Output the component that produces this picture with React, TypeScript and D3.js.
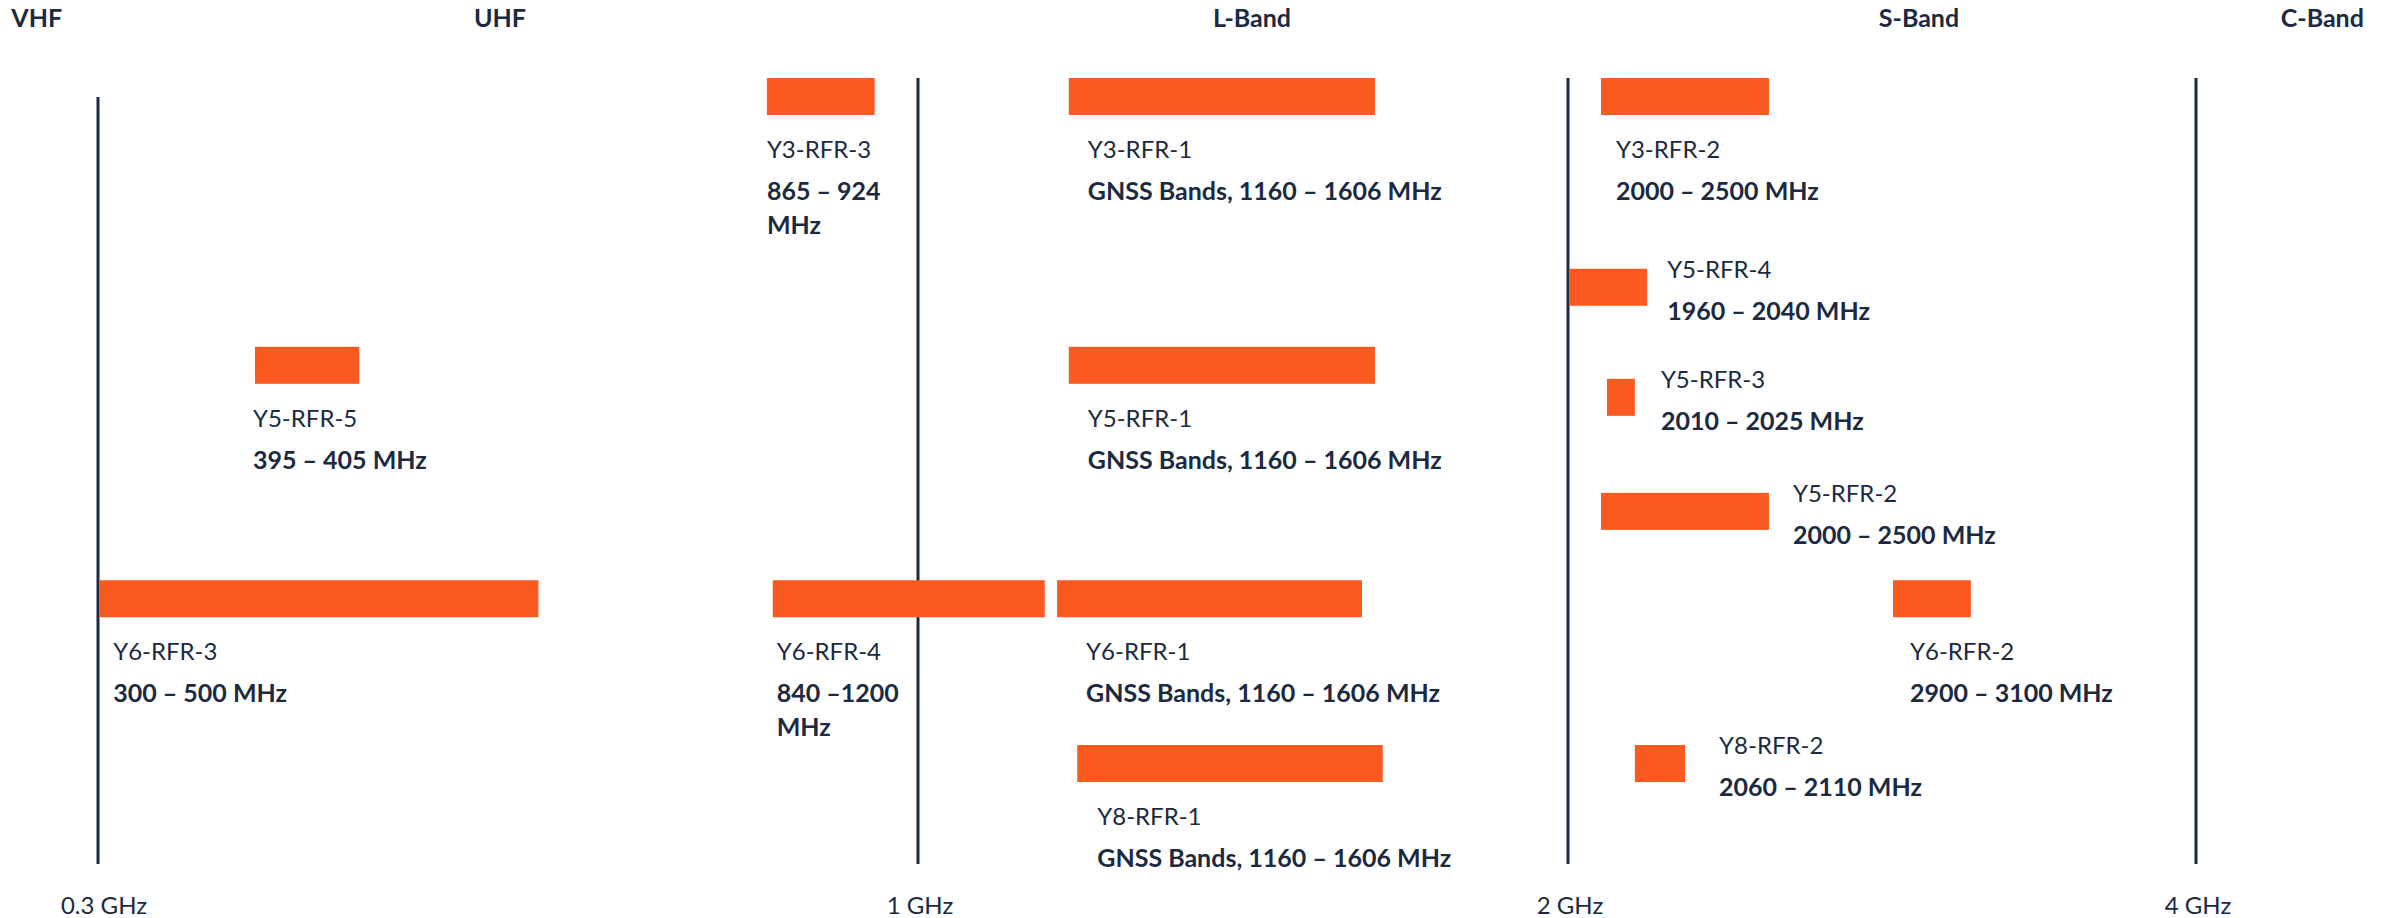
import React from "react";
import * as d3 from "d3";

// ---- data (axis in GHz) ----
const tickValues = [0.3, 1, 2, 4];
const tickLabels = ["0.3 GHz", "1 GHz", "2 GHz", "4 GHz"];

const bandNames = ["VHF", "UHF", "L-Band", "S-Band", "C-Band"];
const bandAt = [0.226, 0.621, 1.454, 2.99, 4.27];

const barNames = [
  "Y3-RFR-3", "Y3-RFR-1", "Y3-RFR-2",
  "Y5-RFR-4", "Y5-RFR-5", "Y5-RFR-1", "Y5-RFR-3", "Y5-RFR-2",
  "Y6-RFR-3", "Y6-RFR-4", "Y6-RFR-1", "Y6-RFR-2",
  "Y8-RFR-1", "Y8-RFR-2",
];
const barRanges = [
  ["865 – 924", "MHz"], ["GNSS Bands, 1160 – 1606 MHz"], ["2000 – 2500 MHz"],
  ["1960 – 2040 MHz"], ["395 – 405 MHz"], ["GNSS Bands, 1160 – 1606 MHz"], ["2010 – 2025 MHz"], ["2000 – 2500 MHz"],
  ["300 – 500 MHz"], ["840 –1200", "MHz"], ["GNSS Bands, 1160 – 1606 MHz"], ["2900 – 3100 MHz"],
  ["GNSS Bands, 1160 – 1606 MHz"], ["2060 – 2110 MHz"],
];
const barStart = [0.871, 1.232, 2.105, 2.003, 0.434, 1.232, 2.124, 2.105, 0.301, 0.876, 1.214, 3.035, 1.245, 2.213];
const barEnd = [0.963, 1.703, 2.64, 2.252, 0.523, 1.703, 2.213, 2.64, 0.676, 1.195, 1.683, 3.283, 1.715, 2.373];
const barLane = [0, 0, 0, 28.6, 40.3, 40.3, 45.1, 62.2, 75.3, 75.3, 75.3, 75.3, 100, 100];

// ---- layout (styling only) ----
const labelSide = ["below", "below", "below", "right", "below", "below", "right", "right", "below", "below", "below", "below", "below", "right"];
const labelDx = [0, 19, 15, 20, -2, 19, 26, 24, 14, 4, 29, 17, 20, 34];
const lineTop = [97, 78, 78, 78];

const W = 2394;
const H = 918;
const NAVY = "#1b2a41";
const ORANGE = "#fa5a20";
const FONT = "Lato, 'Open Sans', sans-serif";
const BAR_H = 37;

export default function App() {
  const x = d3.scaleLinear().domain(tickValues).range([98, 918, 1568, 2196]);
  const y = d3.scaleLinear().domain([0, 100]).range([78, 745]);

  return (
    <svg
      width={W}
      height={H}
      viewBox={`0 0 ${W} ${H}`}
      style={{ position: "absolute", left: 0, top: 0, background: "#fff" }}
      fontFamily={FONT}
    >
      <rect x={0} y={0} width={W} height={H} fill="#fff" />
      {/* band names */}
      {bandNames.map((b, i) => (
        <text key={b} x={x(bandAt[i])} y={27} fontSize={25} fontWeight={700} fill={NAVY}>
          {b}
        </text>
      ))}
      {/* frequency lines */}
      {tickValues.map((t, i) => (
        <g key={t}>
          <line x1={x(t)} x2={x(t)} y1={lineTop[i]} y2={864} stroke={NAVY} strokeWidth={3} />
          <text x={x(t) + (i === 0 ? 6 : 2)} y={914} fontSize={24} fill={NAVY} textAnchor="middle">
            {tickLabels[i]}
          </text>
        </g>
      ))}
      {/* bars */}
      {barNames.map((n, i) => {
        const x0 = x(barStart[i]);
        const x1 = x(barEnd[i]);
        const top = y(barLane[i]);
        const right = labelSide[i] === "right";
        const lx = right ? x1 + labelDx[i] : x0 + labelDx[i];
        const ny = right ? top + 9 : top + BAR_H + 43;
        return (
          <g key={n}>
            <rect x={x0} y={top} width={x1 - x0} height={BAR_H} fill={ORANGE} />
            <text x={lx} y={ny} fontSize={24} fill={NAVY}>
              {n}
            </text>
            {barRanges[i].map((r, j) => (
              <text
                key={j}
                x={lx}
                y={ny + 42 + j * 34}
                fontSize={25}
                fontWeight={700}
                fill={NAVY}
              >
                {r}
              </text>
            ))}
          </g>
        );
      })}
    </svg>
  );
}
